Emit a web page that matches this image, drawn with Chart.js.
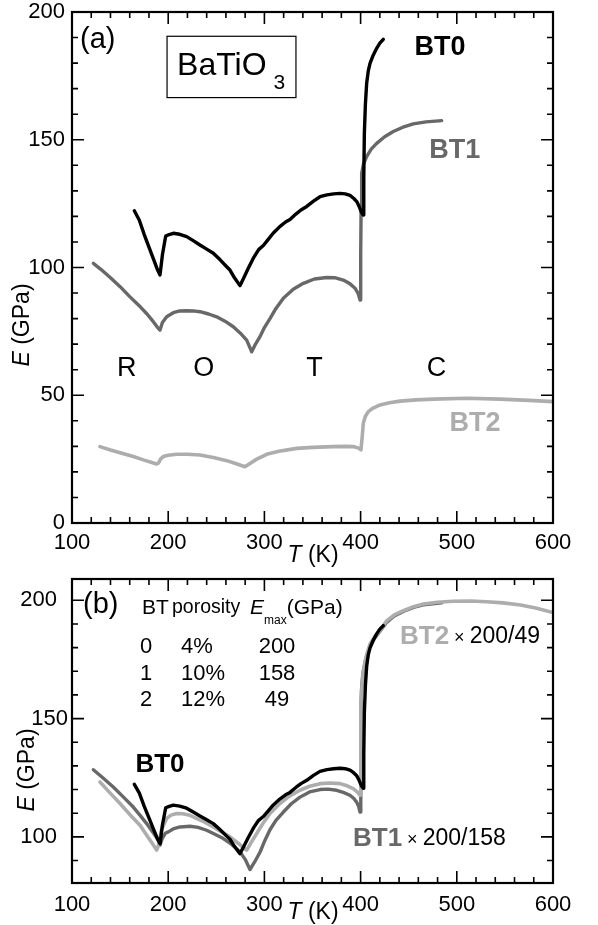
<!DOCTYPE html>
<html><head><meta charset="utf-8">
<script src="https://cdn.jsdelivr.net/npm/chart.js@4/dist/chart.umd.min.js"></script>
<style>
html,body{margin:0;padding:0;background:#fff;}
#wrap{position:relative;width:598px;height:925px;overflow:hidden;}
#ca{position:absolute;left:0;top:0;}
#cb{position:absolute;left:0;top:570px;}
</style></head><body>
<div id="wrap"><canvas id="ca" width="598" height="570"></canvas><canvas id="cb" width="598" height="355"></canvas></div>
<script>
const FONT = "'Liberation Sans', Arial, Helvetica, sans-serif";
Chart.defaults.font.family = FONT;
Chart.defaults.color = '#000';

// ---- tick labels ----
const xTicks = [100, 200, 300, 400, 500, 600];
const yTicksA = [0, 50, 100, 150, 200];
const yTicksB = [100, 150, 200];

// ---- series: [T (K), E (GPa)] ----
const bt0 = [[164.8,122.2],[170,118.5],[175,113],[180,108],[185,103],[189,99],[191.5,97.1],[194,105],[197.4,112.3],[201,112.9],[205.3,113.4],[212,113],[219.2,112.1],[226,110.5],[233,108.8],[240,107.2],[246.9,105.6],[254,103],[260.8,100.3],[264.2,99],[268,96.5],[274.6,92.9],[278,95.5],[283,99.5],[289,104],[294,107],[298.9,108.6],[304,111],[309.3,113.5],[316,116],[322,117.8],[326.6,118.8],[333,121],[338,122.5],[344,123.9],[351,126],[357.8,127.7],[365,128.4],[372,128.8],[378.6,129],[384,128.8],[389,128.2],[393,127],[396,125.8],[398,124.3],[399.4,123],[401,121.5],[402.8,120.5],[403.3,135],[403.9,152.5],[405,164],[406.3,172.1],[408,177],[409.8,179.9],[413,183],[416.7,185.8],[420,187.8],[423.6,189.3]];
const bt1 = [[122.2,101.6],[130,99.3],[140,96],[150,92.5],[160,88.6],[170.7,84.7],[178,81.8],[184.5,78.8],[189,76.5],[191.5,75.5],[194,78.5],[198.4,80.7],[205.3,82.3],[212,83],[219.2,83.1],[226,83],[233,82.7],[242,81.8],[250.4,80.7],[259,79],[267.7,76.8],[275,74.3],[281.6,71.6],[284.5,69],[286.8,67],[290,69.5],[295.4,72.9],[300,76.5],[305.8,80],[312,84],[319.7,88],[330,91.5],[340.5,93.8],[352,95.5],[364.8,96.1],[373,96],[382,95.1],[389,93.6],[394.2,91.9],[397.5,89.8],[399.4,87.3],[400.1,105],[400.5,122],[401.1,136.9],[403,140.5],[406.3,143.4],[411,146.3],[416.7,148.6],[425,151.2],[434,153.2],[444,154.9],[454.8,156.2],[468,157],[484.3,157.5]];
const bt2 = [[129.1,29.9],[140,28.6],[150,27.5],[163.7,26],[175,24.6],[183,23.7],[188,23.1],[190,23.5],[192,25],[194.9,26],[200,26.5],[208.8,26.9],[220,26.9],[233,26.6],[247,25.6],[260.8,24.4],[270,23.3],[279.8,22],[285,23.3],[292,25],[302.4,26.9],[315,28.1],[333.6,29.2],[350,29.6],[371.7,29.9],[385,30],[392.4,29.9],[398,29.3],[400.4,28.6],[401.5,33],[402.8,39],[405,41.8],[408,43.6],[413,45],[420.2,46.2],[430,47.1],[441,47.7],[458,48.2],[475.6,48.5],[510.3,48.8],[544.9,48.5],[575,48],[600,47.5]];
const bt1Norm = [[122.2,128.4],[132,125],[142.9,121.1],[153,117],[163.7,112.6],[171,109],[177.6,105.6],[184,102],[189.7,98.6],[191.5,96.5],[194,99.5],[197,101.5],[200.1,102.1],[206,103.5],[212.3,104.2],[222.7,104.5],[231,104],[240,102.8],[248,101.2],[257.3,99.3],[266,96.8],[274.6,93.7],[280,90.5],[285,86.2],[290,89.5],[295.4,93.5],[300,98],[305.8,103],[312,107],[319.7,110.5],[328,114],[337,116.8],[347,119],[357.8,120],[366,120.2],[375.1,119.7],[382,118.8],[388.9,117.6],[393,116.2],[395.9,114.7],[398,112.8],[399.4,110.5],[400,128],[400.4,150],[400.9,162],[402.2,168.5],[405,174.5],[409,179.8],[414,183.6],[420,186.8],[427,190.6],[435,193.4],[444.4,195.3],[455,197],[465.2,198.1],[484.3,198.9]];
const bt2Norm = [[129.1,123.2],[139,118.8],[149.9,114.1],[160,109.5],[170.7,104.9],[178,100.5],[183,97.5],[188,94.4],[190,96.5],[193,103],[198.4,107.8],[203,109.2],[208.8,109.9],[215,109.8],[222.7,109.1],[235,106.8],[246.9,104.2],[255,102.2],[264.2,100],[272,97.5],[281.6,94.4],[286,97.5],[292,101.4],[299,106],[305.8,109.9],[316.2,114.1],[326,117.2],[337,119.7],[347,121.4],[357.8,122.5],[368,122.8],[378.6,122.5],[386,121.6],[392.4,120.4],[396.5,119],[399.4,117.6],[400,135],[400.4,156.2],[401.5,164],[402.8,170.2],[406,176.5],[409.8,181.5],[415,184.8],[420.2,187.1],[427.1,191.3],[435,193.8],[444.4,195.6],[455,197.3],[465.2,198.4],[480,199.2],[496.4,199.6],[515,199.7],[531,199.4],[548,198.9],[566.3,198],[582,196.7],[600,194.8]];

// ---- text ----
const phaseNames = ['R', 'O', 'T', 'C'];
const phaseT = [157, 237, 352, 479];
const tableHead = ['BT', 'porosity'];
const tableRows = [['0', '4%', '200'], ['1', '10%', '158'], ['2', '12%', '49']];

const BLACK = '#000000', DARK = '#686868', LIGHT = '#adadad';

function pts(a) { return a.map(p => ({ x: p[0], y: p[1] })); }
function ds(data, color, w) {
  return { data: pts(data), borderColor: color, borderWidth: w, pointRadius: 0, tension: 0,
           fill: false, borderJoinStyle: 'round', borderCapStyle: 'round' };
}
function txt(ctx, s, x, y, font, color, align, base) {
  ctx.font = font; ctx.fillStyle = color || '#000';
  ctx.textAlign = align || 'left'; ctx.textBaseline = base || 'middle';
  ctx.fillText(s, x, y);
  return ctx.measureText(s).width;
}
function frameTicks(chart, yMin, yMax, yMajors) {
  const ctx = chart.ctx, a = chart.chartArea, xs = chart.scales.x, ys = chart.scales.y;
  ctx.save();
  ctx.strokeStyle = '#000';
  ctx.lineWidth = 1.6;
  ctx.beginPath();
  for (let v = 100; v <= 600; v += 20) {
    const px = xs.getPixelForValue(v);
    const L = (v % 100 === 0) ? 12 : 6;
    ctx.moveTo(px, a.bottom); ctx.lineTo(px, a.bottom - L);
    ctx.moveTo(px, a.top); ctx.lineTo(px, a.top + L);
  }
  for (let v = Math.ceil(yMin / 10) * 10; v <= yMax; v += 10) {
    const py = ys.getPixelForValue(v);
    const L = yMajors.includes(v) ? 12 : 6;
    ctx.moveTo(a.left, py); ctx.lineTo(a.left + L, py);
    ctx.moveTo(a.right, py); ctx.lineTo(a.right - L, py);
  }
  ctx.stroke();
  ctx.lineWidth = 2.2;
  ctx.strokeRect(a.left, a.top, a.right - a.left, a.bottom - a.top);
  ctx.restore();
}
function axisTitles(chart, tx, ty, ex, ey, size) {
  const ctx = chart.ctx;
  ctx.save();
  ctx.font = `italic ${size}px ${FONT}`;
  const w1 = ctx.measureText('T').width;
  ctx.font = `${size}px ${FONT}`;
  const w2 = ctx.measureText(' (K)').width;
  let x0 = tx - (w1 + w2) / 2;
  txt(ctx, 'T', x0, ty, `italic ${size}px ${FONT}`, '#000', 'left');
  txt(ctx, ' (K)', x0 + w1, ty, `${size}px ${FONT}`, '#000', 'left');
  ctx.translate(ex, ey);
  ctx.rotate(-Math.PI / 2);
  ctx.font = `italic ${size}px ${FONT}`;
  const e1 = ctx.measureText('E').width;
  ctx.font = `${size}px ${FONT}`;
  const e2 = ctx.measureText(' (GPa)').width;
  x0 = -(e1 + e2) / 2;
  txt(ctx, 'E', x0, 0, `italic ${size}px ${FONT}`, '#000', 'left');
  txt(ctx, ' (GPa)', x0 + e1, 0, `${size}px ${FONT}`, '#000', 'left');
  ctx.restore();
}

function scalesFor(yMin, yMax, yTicks, xPad, yPad, xH, yLabelFn) {
  return {
    x: { type: 'linear', min: 100, max: 600,
         grid: { display: false, drawTicks: false }, border: { display: false },
         ticks: { font: { size: 22 }, color: '#000', padding: xPad, autoSkip: false, maxRotation: 0 },
         afterBuildTicks: s => { s.ticks = xTicks.map(v => ({ value: v })); },
         afterFit: s => { s.height = xH; s.paddingLeft = 0; s.paddingRight = 0; } },
    y: { type: 'linear', min: yMin, max: yMax,
         grid: { display: false, drawTicks: false }, border: { display: false },
         ticks: { font: { size: 22 }, color: '#000', padding: yPad, autoSkip: false,
                  callback: yLabelFn || (v => String(v)) },
         afterBuildTicks: s => { s.ticks = yTicks.map(v => ({ value: v })); },
         afterFit: s => { s.width = 72; s.paddingTop = 0; s.paddingBottom = 0; } }
  };
}

// ---------- panel (a) ----------
new Chart(document.getElementById('ca'), {
  type: 'line',
  data: { datasets: [ds(bt0, BLACK, 3.4), ds(bt1, DARK, 3.4), ds(bt2, LIGHT, 3.6)] },
  options: {
    responsive: false, animation: false, devicePixelRatio: 1,
    layout: { padding: { left: 0, right: 45, top: 12, bottom: 0 } },
    plugins: { legend: { display: false }, tooltip: { enabled: false } },
    scales: scalesFor(0, 200, yTicksA, 7, 7, 47)
  },
  plugins: [{
    id: 'panelA',
    afterDraw(chart) {
      const ctx = chart.ctx, xs = chart.scales.x, ys = chart.scales.y;
      frameTicks(chart, 0, 200, yTicksA);
      ctx.save();
      txt(ctx, '(a)', xs.getPixelForValue(108.3), ys.getPixelForValue(189), `29px ${FONT}`);
      const bx0 = xs.getPixelForValue(198.8), bx1 = xs.getPixelForValue(332.8);
      const by0 = ys.getPixelForValue(190.5), by1 = ys.getPixelForValue(166.5);
      ctx.lineWidth = 1.2; ctx.strokeStyle = '#000';
      ctx.strokeRect(bx0, by0, bx1 - bx0, by1 - by0);
      const wB = txt(ctx, 'BaTiO', bx0 + 10, ys.getPixelForValue(175.2), `32px ${FONT}`, '#000', 'left', 'alphabetic');
      txt(ctx, '3', bx0 + 10 + wB + 7, ys.getPixelForValue(170.0), `21px ${FONT}`, '#000', 'left', 'alphabetic');
      txt(ctx, 'BT0', xs.getPixelForValue(482.5), ys.getPixelForValue(186), `bold 27px ${FONT}`, BLACK, 'center');
      txt(ctx, 'BT1', xs.getPixelForValue(498), ys.getPixelForValue(145.6), `bold 27px ${FONT}`, DARK, 'center');
      txt(ctx, 'BT2', xs.getPixelForValue(519), ys.getPixelForValue(39.1), `bold 27px ${FONT}`, LIGHT, 'center');
      phaseNames.forEach((p, i) => txt(ctx, p, xs.getPixelForValue(phaseT[i]), ys.getPixelForValue(60.3), `27px ${FONT}`, '#000', 'center'));
      ctx.restore();
      axisTitles(chart, 313, 556, 23, 325, 23);
    }
  }]
});

// ---------- panel (b) ----------
new Chart(document.getElementById('cb'), {
  type: 'line',
  data: { datasets: [ds(bt0, BLACK, 3.4), ds(bt2Norm, LIGHT, 3.6), ds(bt1Norm, DARK, 3.4)] },
  options: {
    responsive: false, animation: false, devicePixelRatio: 1,
    layout: { padding: { left: 0, right: 45, top: 9, bottom: 0 } },
    plugins: { legend: { display: false }, tooltip: { enabled: false } },
    scales: scalesFor(80.5, 209, yTicksB, 9, 4, 42, v => (v === 150 ? '150' : String(v) + '\u2002'))
  },
  plugins: [{
    id: 'panelB',
    afterDraw(chart) {
      const ctx = chart.ctx;
      frameTicks(chart, 80.5, 209, yTicksB);
      ctx.save();
      txt(ctx, '(b)', 83, 35, `29px ${FONT}`);
      txt(ctx, tableHead[0], 142, 38, `21px ${FONT}`);
      txt(ctx, tableHead[1], 172, 38, `19.5px ${FONT}`);
      const wE = txt(ctx, 'E', 250, 38, `italic 21px ${FONT}`);
      const wm = txt(ctx, 'max', 250 + wE, 51, `12px ${FONT}`);
      txt(ctx, '(GPa)', 250 + wE + wm, 38, `21px ${FONT}`);
      const rowY = [77, 104, 130];
      tableRows.forEach((r, i) => {
        txt(ctx, r[0], 146, rowY[i], `22px ${FONT}`, '#000', 'center');
        txt(ctx, r[1], 181, rowY[i], `22px ${FONT}`, '#000', 'left');
        txt(ctx, r[2], 277, rowY[i], `22px ${FONT}`, '#000', 'center');
      });
      txt(ctx, 'BT0', 160, 195, `bold 26px ${FONT}`, BLACK, 'center');
      let w = txt(ctx, 'BT2', 400, 67, `bold 26px ${FONT}`, LIGHT, 'left');
      w += txt(ctx, ' \u00d7 ', 400 + w, 68, `18px ${FONT}`, '#000', 'left');
      txt(ctx, '200/49', 400 + w, 67, `23px ${FONT}`, '#000', 'left');
      w = txt(ctx, 'BT1', 353, 269, `bold 26px ${FONT}`, DARK, 'left');
      w += txt(ctx, ' \u00d7 ', 353 + w, 270, `18px ${FONT}`, '#000', 'left');
      txt(ctx, '200/158', 353 + w, 269, `23px ${FONT}`, '#000', 'left');
      ctx.restore();
      axisTitles(chart, 313, 343, 28, 200, 23);
    }
  }]
});
</script>
</body></html>
